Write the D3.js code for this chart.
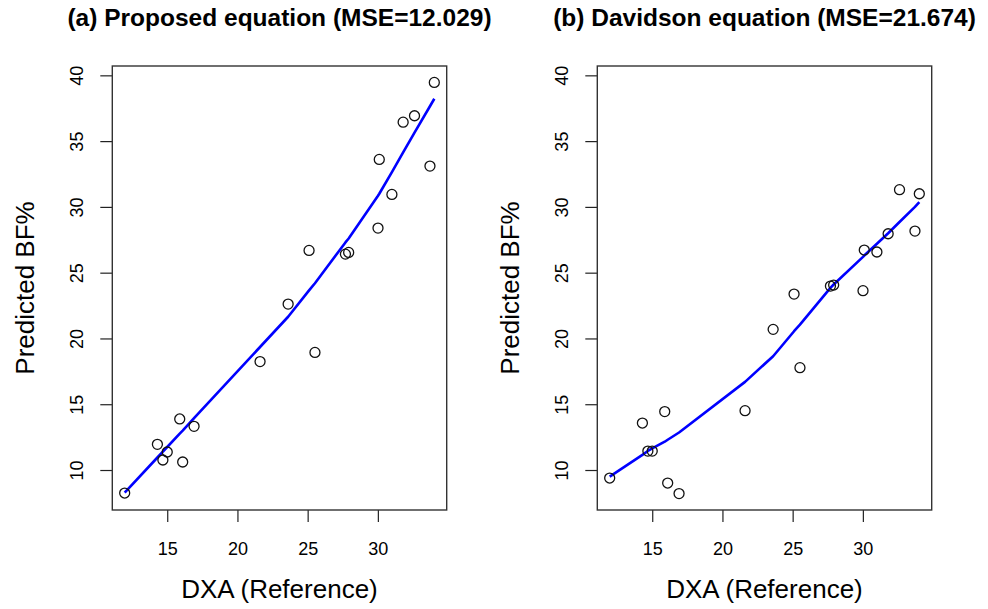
<!DOCTYPE html>
<html>
<head>
<meta charset="utf-8">
<script src="https://cdn.jsdelivr.net/npm/d3@7"></script>
<style>
  body { margin: 0; background: #fff; }
  text { font-family: "Liberation Sans", Arial, sans-serif; fill: #000; }
</style>
</head>
<body>
<svg width="988" height="609"></svg>
<script>
// DXA reference values (shared by both panels)
const dxa = [11.97, 14.3, 14.69, 15.0, 15.89, 16.1, 16.91, 21.61, 23.61, 25.1,
             25.52, 27.69, 27.92, 30.01, 30.1, 31.0, 31.8, 32.61, 33.71, 34.02];

// predicted BF% from the proposed equation
const proposed = [8.25, 11.95, 10.76, 11.37, 13.88, 10.61, 13.32, 18.24, 22.61, 26.69,
                  18.94, 26.41, 26.54, 28.39, 33.61, 30.95, 36.44, 36.93, 33.1, 39.46];
const proposedFit = [8.28, 10.95, 11.4, 11.75, 12.77, 13.0, 13.95, 19.35, 21.65, 23.65,
                     24.2, 27.3, 27.6, 30.85, 31.0, 32.65, 34.15, 35.65, 37.65, 38.22];

// predicted BF% from the Davidson equation
const davidson = [9.39, 13.57, 11.44, 11.44, 14.44, 9.01, 8.21, 14.51, 20.69, 23.37,
                  17.78, 23.98, 24.06, 23.63, 26.72, 26.57, 27.96, 31.31, 28.16, 31.0];
const davidsonFit = [9.5, 11.15, 11.45, 11.65, 12.15, 12.3, 12.85, 16.7, 18.65, 20.55,
                     21.05, 23.85, 24.1, 26.2, 26.3, 27.2, 28.0, 28.85, 30.0, 30.36];

const titles = ["(a) Proposed equation (MSE=12.029)", "(b) Davidson equation (MSE=21.674)"];
const xTicks = [15, 20, 25, 30];
const yTicks = [10, 15, 20, 25, 30, 35, 40];

var svg = d3.select("svg");
var pw = 334.4, ph = 444;
var panelLeft = [112.3, 597.3];
var plotTop = 66;

// R-style 4% padding around the data range
function padded(ext) {
    var r = ext[1] - ext[0];
    return [ext[0] - 0.04 * r, ext[1] + 0.04 * r];
}
var x = d3.scaleLinear().domain(padded(d3.extent(dxa))).range([0, pw]);
var y = d3.scaleLinear()
    .domain(padded(d3.extent(proposed.concat(davidson))))
    .range([ph, 0]);

var panels = [
    { title: titles[0], pts: proposed, fit: proposedFit },
    { title: titles[1], pts: davidson, fit: davidsonFit }
];

panels.forEach(function (p, k) {
    var g = svg.append("g")
        .attr("transform", "translate(" + panelLeft[k] + "," + plotTop + ")");

    // title
    g.append("text")
        .attr("x", pw / 2)
        .attr("y", 26 - plotTop)
        .attr("text-anchor", "middle")
        .attr("font-size", "24.5px")
        .attr("font-weight", "bold")
        .text(p.title);

    // x axis
    var xa = g.append("g")
        .attr("transform", "translate(0," + ph + ")")
        .call(d3.axisBottom(x).tickValues(xTicks).tickSize(12).tickFormat(d3.format("d")));
    xa.select(".domain").remove();
    xa.selectAll("line").attr("stroke", "#222").attr("stroke-width", 1.2);
    xa.selectAll("text")
        .attr("y", 45).attr("dy", 0)
        .attr("font-size", "18px")
        .attr("font-family", "Liberation Sans, Arial, sans-serif")
        .attr("fill", "#000");

    // y axis with vertical labels
    var ya = g.append("g")
        .call(d3.axisLeft(y).tickValues(yTicks).tickSize(12).tickFormat(d3.format("d")));
    ya.select(".domain").remove();
    ya.selectAll("line").attr("stroke", "#222").attr("stroke-width", 1.2);
    ya.selectAll("text")
        .attr("x", 0).attr("y", -29).attr("dy", 0)
        .attr("transform", "rotate(-90)")
        .attr("text-anchor", "middle")
        .attr("font-size", "18px")
        .attr("font-family", "Liberation Sans, Arial, sans-serif")
        .attr("fill", "#000");

    // axis titles
    g.append("text")
        .attr("x", pw / 2)
        .attr("y", 598 - plotTop)
        .attr("text-anchor", "middle")
        .attr("font-size", "26px")
        .text("DXA (Reference)");
    g.append("text")
        .attr("transform", "translate(-78," + (ph / 2) + ") rotate(-90)")
        .attr("text-anchor", "middle")
        .attr("font-size", "26px")
        .text("Predicted BF%");

    // fitted curve
    var line = d3.line()
        .x(function (d, i) { return x(dxa[i]); })
        .y(function (d) { return y(d); });
    g.append("path")
        .datum(p.fit)
        .attr("d", line)
        .attr("fill", "none")
        .attr("stroke", "#0000ff")
        .attr("stroke-width", 2.6)
        .attr("stroke-linejoin", "round");

    // data points
    g.selectAll(".pt")
        .data(p.pts)
        .enter().append("circle")
        .attr("class", "pt")
        .attr("cx", function (d, i) { return x(dxa[i]); })
        .attr("cy", function (d) { return y(d); })
        .attr("r", 5)
        .attr("fill", "none")
        .attr("stroke", "#111")
        .attr("stroke-width", 1.3);

    // plot box
    g.append("rect")
        .attr("width", pw)
        .attr("height", ph)
        .attr("fill", "none")
        .attr("stroke", "#333")
        .attr("stroke-width", 1.4);
});
</script>
</body>
</html>
